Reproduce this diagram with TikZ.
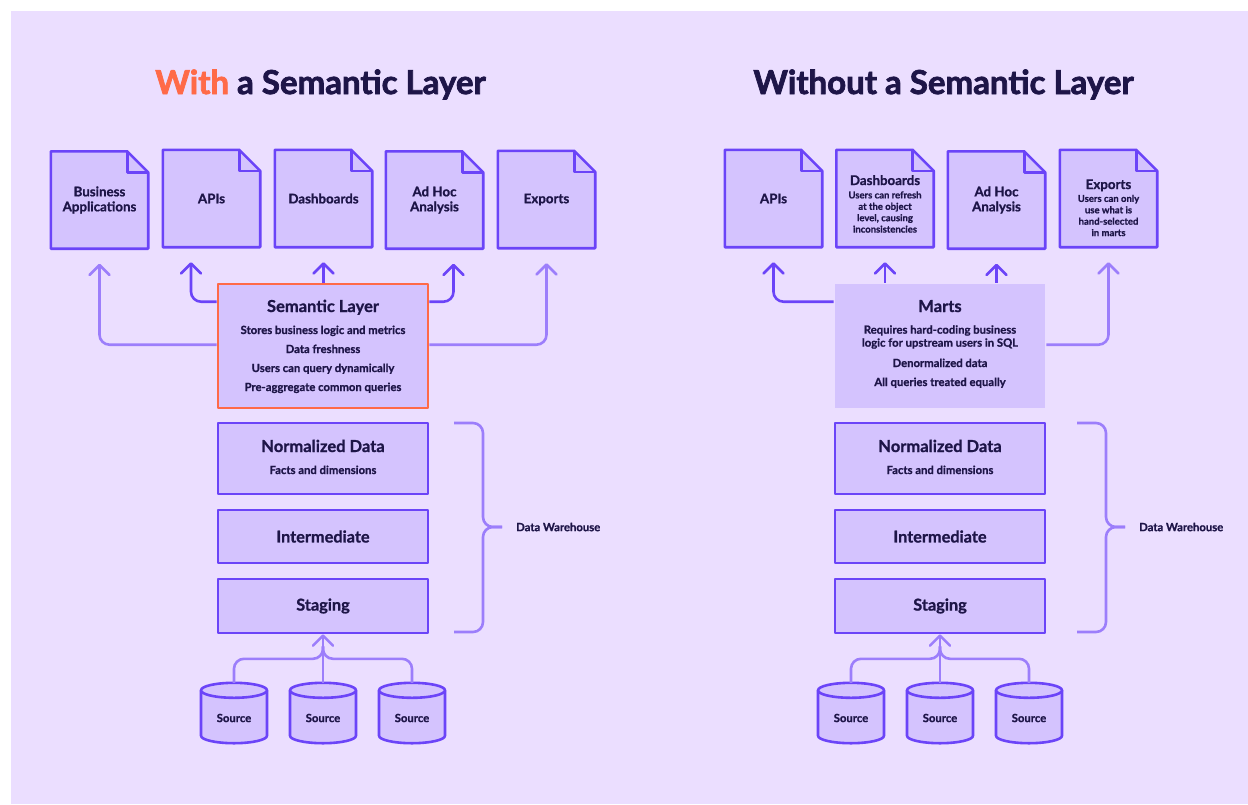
\documentclass[tikz,border=0pt]{standalone}
\usepackage{fontspec}
\setmainfont{Lato}[BoldFeatures={FakeBold=1}]
\newfontfamily\titlefont{Lato}[BoldFeatures={FakeBold=2.2}]
\usetikzlibrary{arrows.meta,backgrounds}

\definecolor{paper}{HTML}{EBDEFF}
\definecolor{boxfill}{HTML}{D4C3FE}
\definecolor{ink}{HTML}{6B44F8}
\definecolor{soft}{HTML}{9C7EFB}
\definecolor{coral}{HTML}{FF6A48}
\definecolor{txt}{HTML}{1E1548}

\newcommand\fsz[2]{\fontsize{#1}{#2}\selectfont\bfseries}

% page-like outline with a folded top-right corner around a node
\newcommand\docframe[1]{%
  \filldraw[stroke, fill=boxfill] (#1.south west) -- (#1.north west)
    -- ([xshift=-21pt]#1.north east) -- ([yshift=-21pt]#1.north east)
    -- (#1.south east) -- cycle;
  \draw[stroke] ([xshift=-21pt]#1.north east) |- ([yshift=-21pt]#1.north east);}

% database drum around a node
\newcommand\drum[1]{%
  \filldraw[stroke, fill=boxfill] ([xshift=-33pt,yshift=2.5pt]#1.north)
    -- ([xshift=-33pt,yshift=7.5pt]#1.south)
    arc[start angle=180, end angle=360, x radius=33pt, y radius=7.5pt]
    -- ([xshift=33pt,yshift=2.5pt]#1.north) -- cycle;
  \filldraw[stroke, fill=boxfill] ([yshift=2.5pt]#1.north)
    ellipse[x radius=33pt, y radius=7.5pt];}

\tikzset{
  stroke/.style={draw=ink, line width=2.6pt, line join=round},
  docnode/.style={minimum width=97pt, minimum height=97pt, inner sep=0pt,
    align=center, text=txt, font=\fsz{13.3}{15}},
  layer/.style={stroke, fill=boxfill, minimum width=210pt, inner sep=0pt,
    text=txt, font=\fsz{16.3}{19}},
  hd/.style={inner sep=0pt, text=txt, anchor=base, font=\fsz{16.5}{19}},
  item/.style={inner sep=0pt, text=txt, anchor=base, font=\fsz{11.3}{13}},
  note/.style={inner sep=0pt, text=txt, align=center, font=\fsz{9.5}{11.4}},
  srcnode/.style={minimum width=66pt, minimum height=50pt, inner sep=0pt,
    text=txt, font=\fsz{11.3}{12}},
  headline/.style={inner sep=0pt, text=txt, anchor=base, font=\titlefont\fsz{33}{38}},
  flow/.style={line width=2.6pt, line join=round, rounded corners=10pt,
    -{Straight Barb[length=10pt, width=20pt, line cap=round, line join=round]}},
  dark/.style={flow, draw=ink},
  light/.style={flow, draw=soft},
  feed/.style={draw=soft, line width=2.6pt, line join=round, rounded corners=10pt},
  brace/.style={draw=soft, line width=2.6pt, rounded corners=10pt},
}

\begin{document}
\begin{tikzpicture}[x=1pt, y=-1pt]
\useasboundingbox (0,0) rectangle (1248,804);
\begin{scope}[on background layer]
  \fill[white] (0,0) rectangle (1248,804);
  \fill[paper] (11,11) rectangle (1248,804);
\end{scope}

% ---------------- titles ----------------
\node[headline] (tL) at (320.5,94) {\textcolor{coral}{With} a Semantic Layer};
\node[headline] (tR) at (943.5,94) {Without a Semantic Layer};

% ---------------- left: consumers ----------------
\node[docnode] (lBiz)  at (99.5,200)  {Business\\Applications};
\node[docnode] (lAPI)  at (211.5,198.5) {APIs};
\node[docnode] (lDash) at (323.5,198.5) {Dashboards};
\node[docnode] (lAdh)  at (434.5,200)  {Ad Hoc\\Analysis};
\node[docnode] (lExp)  at (546.5,199.5) {Exports};

% ---------------- right: consumers ----------------
\node[docnode] (rAPI)  at (773.5,198.5)  {APIs};
\node[docnode] (rDash) at (885,198.5)    {};
\node[docnode] (rAdh)  at (996.5,200)    {Ad Hoc\\Analysis};
\node[docnode] (rExp)  at (1108.5,198.5) {};
\node[hd, font=\fsz{13.3}{15}] (rDashT) at (885,185) {Dashboards};
\node[note] (rDashN) at (885,212) {Users can refresh\\at the object\\level, causing\\inconsistencies};
\node[hd, font=\fsz{13.3}{15}] (rExpT) at (1108.5,189) {Exports};
\node[note] (rExpN) at (1108.5,215.5) {Users can only\\use what is\\hand-selected\\in marts};

% ---------------- left: stack ----------------
\node[layer, draw=coral, minimum height=124pt] (SL) at (323,346) {};
\node[hd] (slT) at (323,312) {Semantic Layer};
\node[item] (sl1) at (323,334) {Stores business logic and metrics};
\node[item] (sl2) at (323,353) {Data freshness};
\node[item] (sl3) at (323,372) {Users can query dynamically};
\node[item] (sl4) at (323,391) {Pre-aggregate common queries};

\node[layer, minimum height=71pt] (lND) at (323,458.5) {};
\node[hd] (lNDT) at (323,452) {Normalized Data};
\node[item] (lNDS) at (323,474) {Facts and dimensions};
\node[layer, minimum height=53pt] (lIM) at (323,536.5) {Intermediate};
\node[layer, minimum height=54pt] (lST) at (323,606) {Staging};

\node[srcnode] (ls1) at (234,718) {Source};
\node[srcnode] (ls2) at (323,718) {Source};
\node[srcnode] (ls3) at (412,718) {Source};

\node[inner sep=0pt, anchor=west, text=txt, font=\fsz{11.3}{12}] (lDW) at (516,527) {Data Warehouse};

% ---------------- right: stack ----------------
\node[layer, draw=none, minimum height=124pt] (M) at (940,346) {};
\node[hd] (mT) at (940,312) {Marts};
\node[item, align=center, anchor=center, font=\fsz{11.3}{13}] (m1) at (940,337) {Requires hard-coding business\\logic for upstream users in SQL};
\node[item] (m2) at (940,367) {Denormalized data};
\node[item] (m3) at (940,386) {All queries treated equally};

\node[layer, minimum height=71pt] (rND) at (940,458.5) {};
\node[hd] (rNDT) at (940,452) {Normalized Data};
\node[item] (rNDS) at (940,474) {Facts and dimensions};
\node[layer, minimum height=53pt] (rIM) at (940,536.5) {Intermediate};
\node[layer, minimum height=54pt] (rST) at (940,606) {Staging};

\node[srcnode] (rs1) at (851,718) {Source};
\node[srcnode] (rs2) at (940,718) {Source};
\node[srcnode] (rs3) at (1029,718) {Source};

\node[inner sep=0pt, anchor=west, text=txt, font=\fsz{11.3}{12}] (rDW) at (1139,527) {Data Warehouse};

% ---------------- shapes and links behind the text ----------------
\begin{scope}[on background layer]
  \foreach \d in {lBiz,lAPI,lDash,lAdh,lExp,rAPI,rDash,rAdh,rExp} {\docframe{\d}}
  \foreach \s in {ls1,ls2,ls3,rs1,rs2,rs3} {\drum{\s}}

  % semantic layer to consumers
  \draw[light] ([yshift=-62pt]SL.north west) -| ([yshift=-15pt]lBiz.south);
  \draw[dark]  ([yshift=-19pt]SL.north west) -| ([xshift=-20.5pt,yshift=-15pt]lAPI.south);
  \draw[dark]  (lDash.south |- SL.north) -- ([yshift=-15pt]lDash.south);
  \draw[dark]  ([yshift=-19pt]SL.north east) -| ([xshift=19pt,yshift=-15pt]lAdh.south);
  \draw[light] ([yshift=-62pt]SL.north east) -| ([yshift=-15pt]lExp.south);

  % marts to consumers
  \draw[dark]  ([yshift=-19pt]M.north west) -| ([yshift=-15pt]rAPI.south);
  \draw[dark]  (rDash.south |- M.north) -- ([yshift=-15pt]rDash.south);
  \draw[dark]  (rAdh.south |- M.north) -- ([yshift=-15pt]rAdh.south);
  \draw[light] ([yshift=-62pt]M.north east) -| ([yshift=-15pt]rExp.south);

  % warehouse braces
  \draw[brace] (454,423) -- (483,423) -- (483,527) -- ([xshift=-14pt]lDW.west);
  \draw[brace] (454,632) -- (483,632) -- (483,527) -- ([xshift=-14pt]lDW.west);
  \draw[brace] (1077,423) -- (1106,423) -- (1106,527) -- ([xshift=-14pt]rDW.west);
  \draw[brace] (1077,632) -- (1106,632) -- (1106,527) -- ([xshift=-14pt]rDW.west);
\end{scope}

% sources feeding staging
\draw[feed] ([yshift=10pt]ls1.north) |- ([yshift=34pt]ls2.north) -- ([yshift=-12pt]lST.south);
\draw[feed] ([yshift=10pt]ls3.north) |- ([yshift=34pt]ls2.north) -- ([yshift=-12pt]lST.south);
\draw[light] ([yshift=10pt]ls2.north) -- (lST.south);
\draw[feed] ([yshift=10pt]rs1.north) |- ([yshift=34pt]rs2.north) -- ([yshift=-12pt]rST.south);
\draw[feed] ([yshift=10pt]rs3.north) |- ([yshift=34pt]rs2.north) -- ([yshift=-12pt]rST.south);
\draw[light] ([yshift=10pt]rs2.north) -- (rST.south);
\end{tikzpicture}
\end{document}
